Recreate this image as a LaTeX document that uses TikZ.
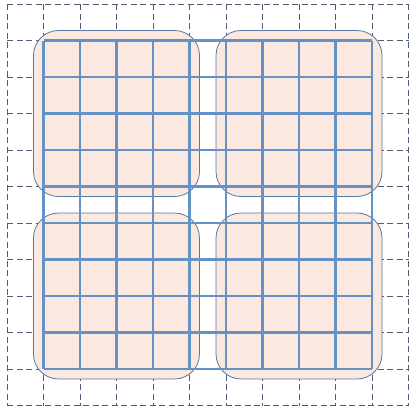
\documentclass[tikz,border=0pt]{standalone}
\definecolor{peach}{HTML}{FBE9DF}
\definecolor{gridblue}{HTML}{6592C4}
\definecolor{boxline}{HTML}{56779F}
\definecolor{dashgray}{HTML}{4F5B73}
\tikzset{
  dashgrid/.style={draw=dashgray, line width=1pt, dash pattern=on 6pt off 3.5pt},
  tile/.style={fill=peach, draw=boxline, line width=0.8pt, rounded corners=25pt},
  solidgrid/.style={draw=gridblue, line width=2.3pt}
}
\begin{document}
\begin{tikzpicture}[x=36.5pt, y=-36.5pt]
  \useasboundingbox (-0.1918,-0.1096) rectangle (11.041,11.041);
  % dashed background grid
  \foreach \i in {0,...,11} {
    \draw[dashgrid] (\i,0) -- (\i,11);
    \draw[dashgrid] (0,\i) -- (11,\i);
  }
  % rounded tiles
  \def\m{0.274}
  \foreach \a/\b in {1/1, 6/1, 1/6, 6/6} {
    \path[tile] (\a-\m,\b-\m) rectangle (\a+4+\m,\b+4+\m);
  }
  % solid blue grid
  \foreach \i in {1,...,10} {
    \draw[solidgrid] (\i,1) -- (\i,10);
    \draw[solidgrid] (1,\i) -- (10,\i);
  }
\end{tikzpicture}
\end{document}
